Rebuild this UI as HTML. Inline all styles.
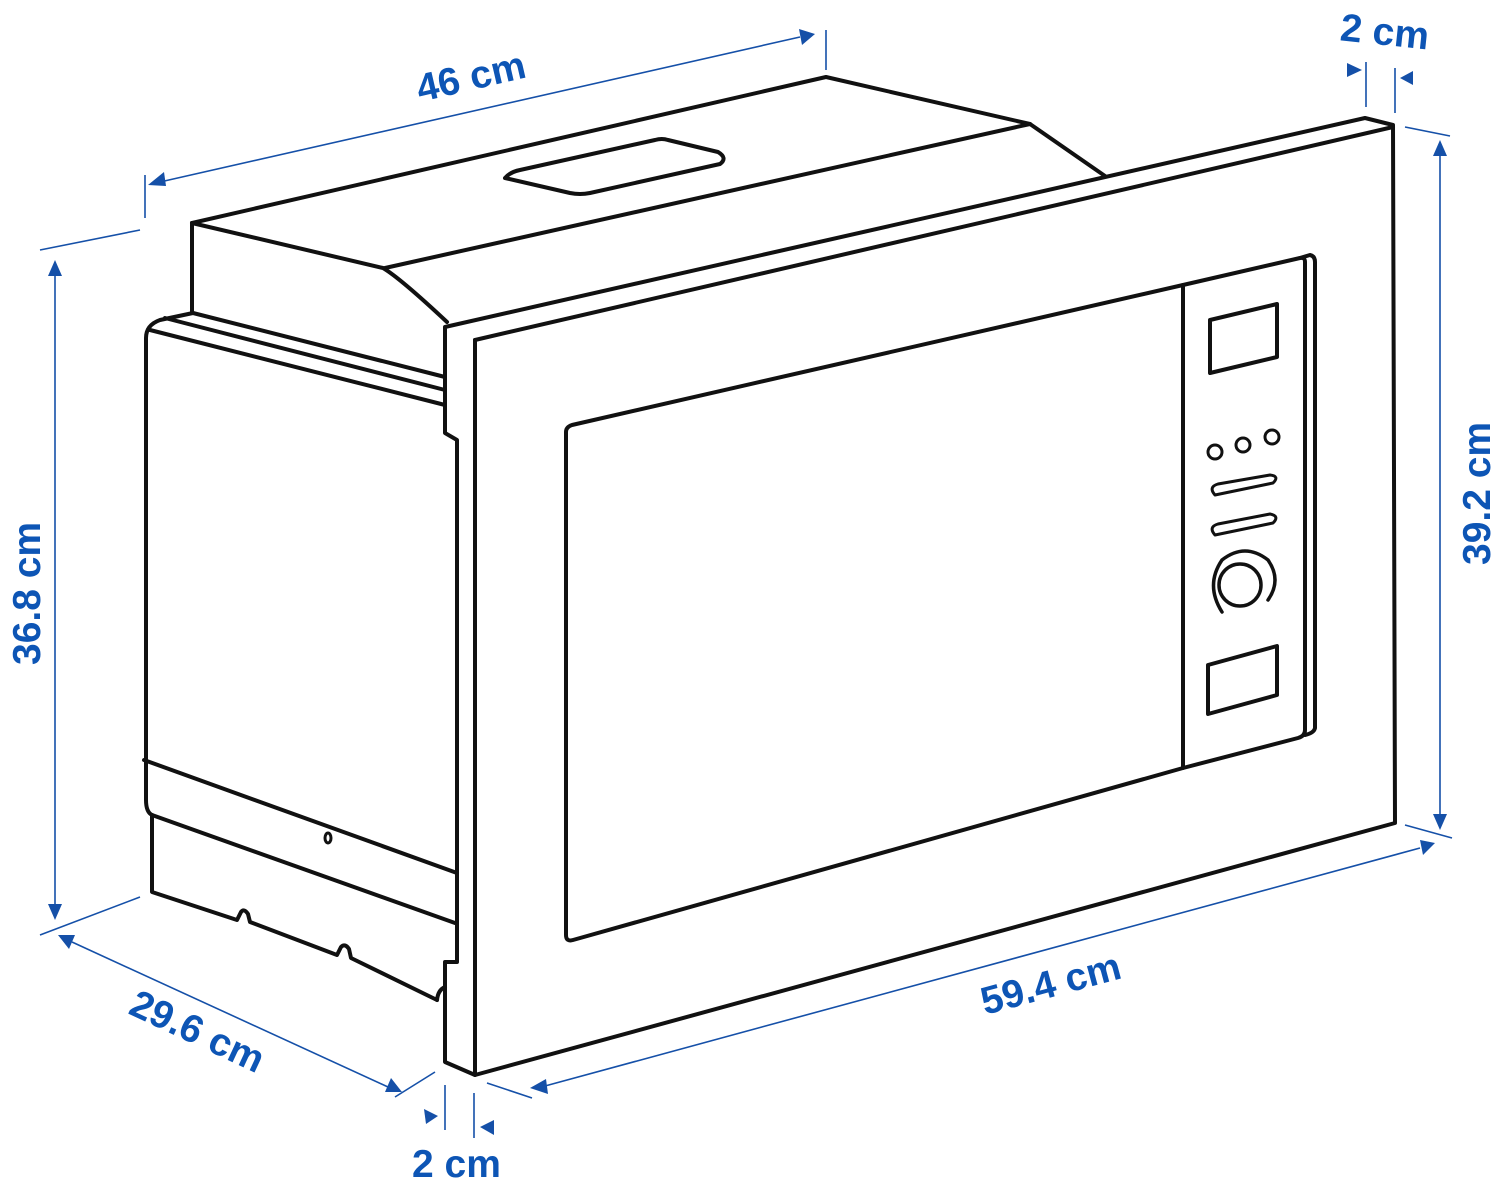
<!DOCTYPE html>
<html><head><style>
html,body{margin:0;padding:0;background:#fff;}
svg{display:block;}
.k{fill:none;stroke:#111;stroke-width:4;stroke-linejoin:round;stroke-linecap:round;}
.b{fill:none;stroke:#1550a8;stroke-width:1.6;}
.t{font-family:"Liberation Sans",sans-serif;font-weight:bold;font-size:39px;fill:#0d55b5;}
.a{fill:#1550a8;}
</style></head><body>
<svg width="1500" height="1191" viewBox="0 0 1500 1191" xmlns="http://www.w3.org/2000/svg">
<path class="k" d="M192,223 L826,77 L1030,124 L1105,176"/>
<path class="k" d="M385,268 L1030,124"/>
<path class="k" d="M192,223 L192,312"/>
<path class="k" d="M192,223 L383,268 Q400,278 447,322"/>
<path class="k" d="M505,178 Q510,172 520,170 L655,140 Q662,138 668,140 L718,152 Q728,158 720,164 L590,193 Q580,195 570,193 Z"/>
<path class="k" d="M193,313 L445,377"/>
<path class="k" d="M165,318 L445,390"/>
<path class="k" d="M193,313 L160,320 Q146,325 146,338 L146,800 Q146,812 152,815"/>
<path class="k" d="M150,330 L445,405"/>
<path class="k" d="M144,760 L457,873"/>
<path class="k" d="M152,815 L455,923"/>
<path class="k" d="M152,815 L152,892 L237,920 L241,912 Q244,908 248,914 L250,922 L337,955 L341,947 Q345,943 349,949 L351,958 L437,1000"/>
<path class="k" d="M437,1000 Q438,990 445,987"/>
<ellipse class="k" cx="328" cy="838" rx="3" ry="5" style="stroke-width:3"/>
<path class="k" d="M445,327 L1365,118 L1393,125 L1395,823 L475,1075 L445,1062 L445,962 L457,962 L457,440 L445,433 Z"/>
<path class="k" d="M475,340 L1393,127"/>
<path class="k" d="M475,340 L475,1075"/>
<path class="k" d="M572,425 L1183,285 L1183,768 L573,940 Q566,942 566,935 L566,432 Q566,427 572,425 Z"/>
<path class="k" d="M1183,285 L1300,258 Q1305,257 1305,262 L1305,730 Q1305,736 1298,738 L1183,768"/>
<path class="k" d="M1300,258 L1310,255 Q1315,256 1315,262 L1315,728 Q1314,733 1305,735"/>
<path class="k" d="M1210,320 L1277,304 L1277,357 L1210,373 Z"/>
<circle class="k" cx="1215" cy="452" r="7" style="stroke-width:3"/>
<circle class="k" cx="1243" cy="445" r="7" style="stroke-width:3"/>
<circle class="k" cx="1272" cy="437" r="7" style="stroke-width:3"/>
<path class="k" d="M1215,495 Q1208,487 1218,484 L1270,475 Q1280,476 1273,483 Z" style="stroke-width:3"/>
<path class="k" d="M1215,535 Q1208,527 1218,524 L1270,514 Q1280,516 1273,523 Z" style="stroke-width:3"/>
<circle class="k" cx="1240" cy="585" r="21" style="stroke-width:3.5"/>
<path class="k" d="M1222,612 Q1205,585 1222,560 Q1245,542 1268,560 Q1282,580 1268,600" style="stroke-width:3.5"/>
<path class="k" d="M1208,665 L1277,646 L1277,695 L1208,714 Z"/>
<g>
<path class="b" d="M145,175 L145,218 M826,30 L826,70 M160,182 L800,37"/>
<polygon class="a" points="148,185 164,172 166,186"/>
<polygon class="a" points="815,34 799,29 802,45"/>
<text class="t" transform="translate(420,102) rotate(-13)">46 cm</text>

<path class="b" d="M1366,62 L1366,107 M1395,68 L1395,113"/>
<polygon class="a" points="1362,70 1347,63 1347,77"/>
<polygon class="a" points="1400,78 1413,71 1413,85"/>
<text class="t" x="1340" y="45" transform="rotate(6 1385 35)">2 cm</text>

<path class="b" d="M1405,127 L1450,136 M1405,825 L1452,838 M1440,155 L1440,815"/>
<polygon class="a" points="1440,140 1433,156 1447,156"/>
<polygon class="a" points="1440,830 1433,814 1447,814"/>
<text class="t" transform="translate(1490,565) rotate(-90)">39.2 cm</text>

<path class="b" d="M40,250 L140,230 M40,935 L140,897 M55,275 L55,905"/>
<polygon class="a" points="55,260 48,276 62,276"/>
<polygon class="a" points="55,920 48,904 62,904"/>
<text class="t" transform="translate(40,665) rotate(-90)">36.8 cm</text>

<path class="b" d="M72,942 L388,1087 M395,1097 L435,1072"/>
<polygon class="a" points="58,935 75,935 69,949"/>
<polygon class="a" points="402,1092 385,1092 391,1078"/>
<text class="t" transform="translate(127,1013) rotate(25)">29.6 cm</text>

<path class="b" d="M445,1085 L445,1130 M474,1093 L474,1138 M487,1083 L532,1098 M545,1086 L1420,848"/>
<polygon class="a" points="438,1116 424,1109 426,1124"/>
<polygon class="a" points="480,1127 494,1120 494,1135"/>
<text class="t" x="412" y="1177">2 cm</text>
<polygon class="a" points="530,1088 546,1079 548,1094"/>
<polygon class="a" points="1435,843 1420,840 1423,855"/>
<text class="t" transform="translate(985,1015) rotate(-15)">59.4 cm</text>
</g>
</svg>
</body></html>
